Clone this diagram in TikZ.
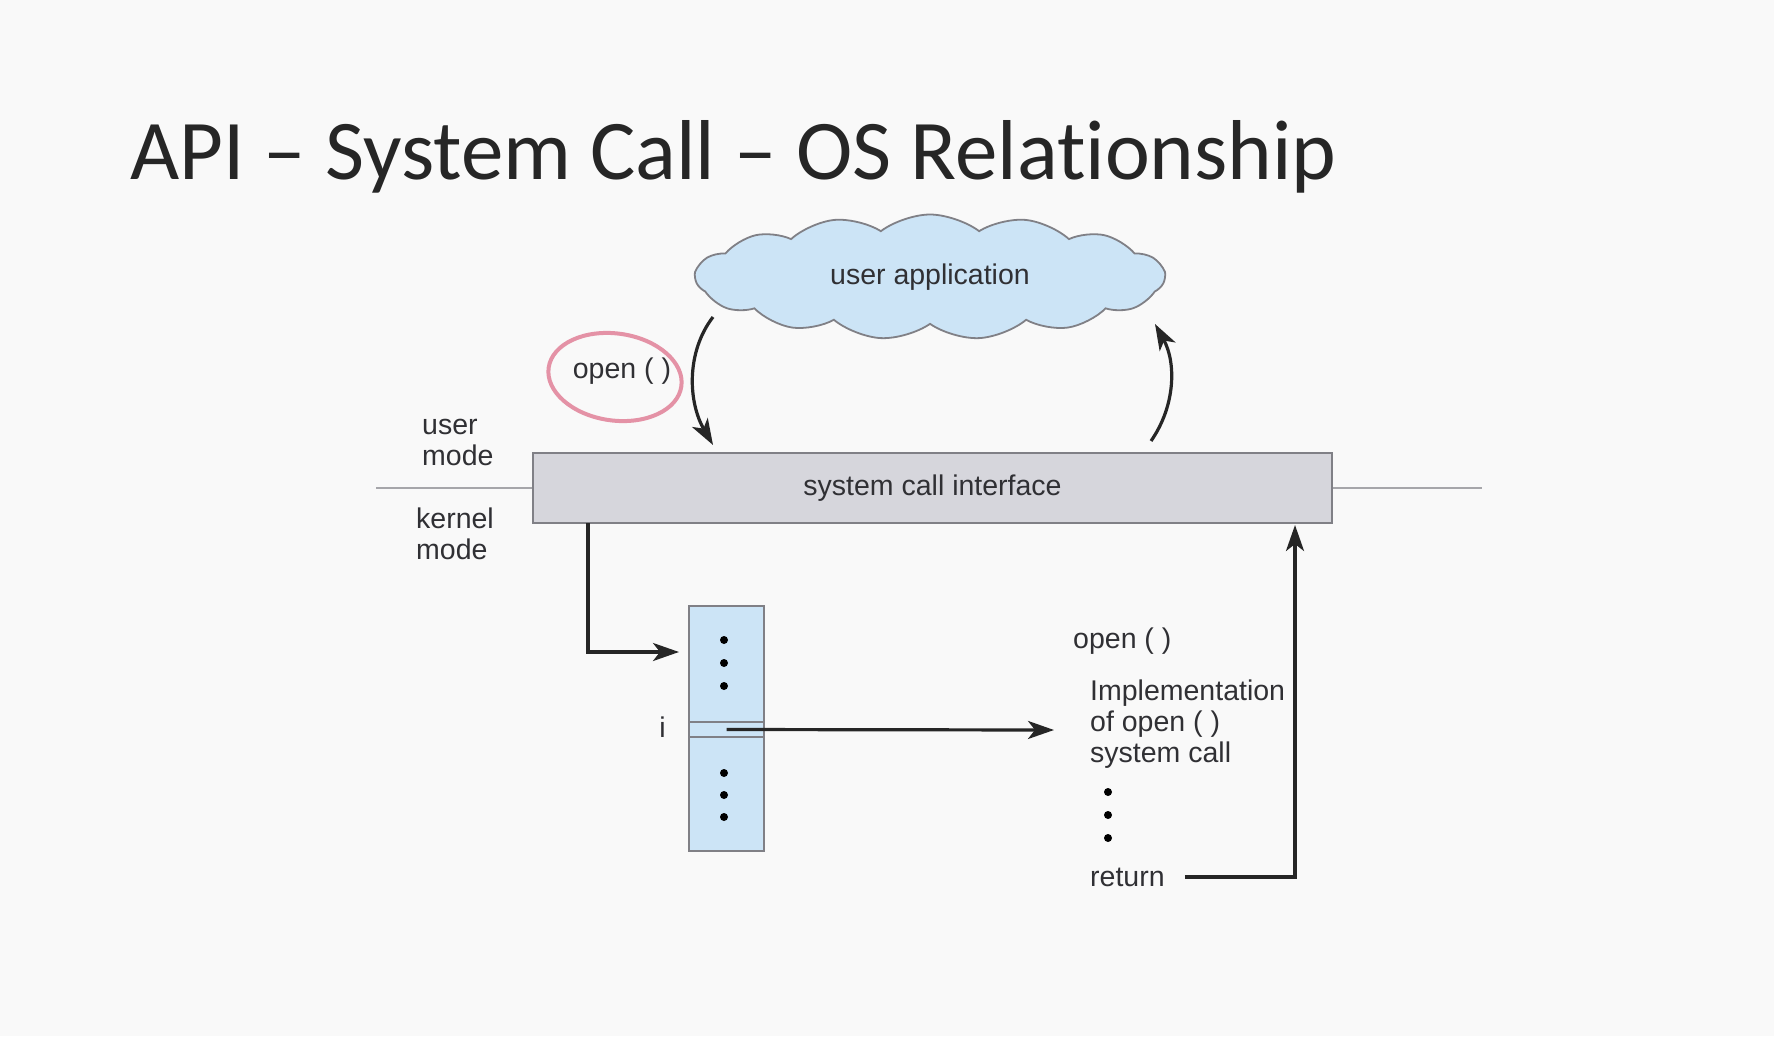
\documentclass[tikz,border=0pt]{standalone}
\usepackage{fontspec}
\setmainfont{Liberation Sans}
\newfontfamily\slidefont[Ligatures=NoCommon]{Carlito}
\usetikzlibrary{positioning, shapes.symbols, shapes.geometric, arrows.meta}

\definecolor{slidebg}{RGB}{249,249,249}
\definecolor{cloudblue}{RGB}{204,228,246}
\definecolor{bargray}{RGB}{214,214,220}
\definecolor{edgegray}{RGB}{128,128,134}
\definecolor{inkgray}{RGB}{48,48,52}
\definecolor{markpink}{RGB}{228,146,166}

\begin{document}
\begin{tikzpicture}[x=1pt, y=-1pt]
      % Define styles for nodes
      \tikzset{
        label/.style={font=\fontsize{28.5}{31}\selectfont, text=inkgray, inner sep=0pt, align=left},
        cloudnode/.style={cloud, cloud puffs=15, cloud puff arc=75, aspect=3.7, draw=edgegray, fill=cloudblue, line width=1.8pt, minimum width=469pt, minimum height=125pt},
        barnode/.style={rectangle, draw=edgegray, fill=bargray, line width=2.2pt, minimum width=799pt, minimum height=70pt},
        tablenode/.style={rectangle, draw=edgegray, fill=cloudblue, line width=1.8pt, minimum width=75pt, minimum height=245pt},
        rownode/.style={rectangle, draw=edgegray, line width=1.8pt, minimum width=75pt, minimum height=15pt},
        flow/.style={draw=black!85, line width=3.2pt, -{Stealth[length=26pt, width=18pt, inset=7pt]}},
        dot/.style={circle, fill=black, inner sep=0pt, minimum size=8pt}
      }

      % Background and bounding box
      \fill[slidebg] (0,0) rectangle (1774,1036);
      \useasboundingbox (0,0) rectangle (1774,1036);

      % Title
      \node[anchor=base west, inner sep=0pt, font=\slidefont\fontsize{85}{90}\selectfont, text=black!85] (title) at (130,179) {API – System Call – OS Relationship};

      % User application and system call interface
      \node[cloudnode] (app) at (930,277) {};
      \node[label] at (app.center) {user application};
      \node[barnode] (sci) at (932.5,488) {};
      \node[label] at (sci.center) {system call interface};

      % Mode boundary
      \coordinate (bleft) at (376,488);
      \coordinate (bright) at (1482,488);
      \draw[edgegray!70, line width=1.8pt] (bleft) -- (sci.west);
      \draw[edgegray!70, line width=1.8pt] (sci.east) -- (bright);
      \node[label, anchor=west] (umode) at (422,442) {user\\mode};
      \node[label, anchor=west] (kmode) at (416,534) {kernel\\mode};

      % The call from the application, marked in pink
      \node[label] (opencall) at (622,371) {open ( )};
      \node[ellipse, draw=markpink, line width=4pt, minimum width=134pt, minimum height=87pt, rotate=-8] (mark) at (615,377) {};
      \coordinate (callstart) at (713,317);
      \coordinate (callend) at (713,445);
      \draw[flow] (callstart) .. controls (686,352) and (688,402) .. (callend);
      \coordinate (backstart) at (1151,441);
      \coordinate (backend) at (1155,324);
      \draw[flow] (backstart) .. controls (1176,405) and (1176,362) .. (backend);

      % System call table
      \node[tablenode] (systable) at (726.5,728.5) {};
      \node[rownode] (rowi) at (726.5,729.5) {};
      \node[label, anchor=east] (idx) at (666,727) {i};
      \foreach \y in {640,663,686,773,795,817}
        \node[dot] at (724,\y) {};

      % Implementation of open()
      \node[label, anchor=west] (ohead) at (1073,641) {open ( )};
      \node[label, anchor=north west] (impl) at (1090,680) {Implementation\\of open ( )\\system call};
      \foreach \y in {792,815,838}
        \node[dot] at (1108,\y) {};
      \node[label, anchor=west] (ret) at (1090,877) {return};

      % Connectors
      \coordinate (drop) at (588,523);
      \coordinate (entry) at (679,652);
      \draw[flow] (drop) |- (entry);
      \coordinate (implin) at (1054,730);
      \draw[flow] (rowi.center) -- (implin);
      \coordinate (retup) at (1295,525);
      \draw[flow] ([xshift=20pt]ret.east) -| (retup);
\end{tikzpicture}
\end{document}
